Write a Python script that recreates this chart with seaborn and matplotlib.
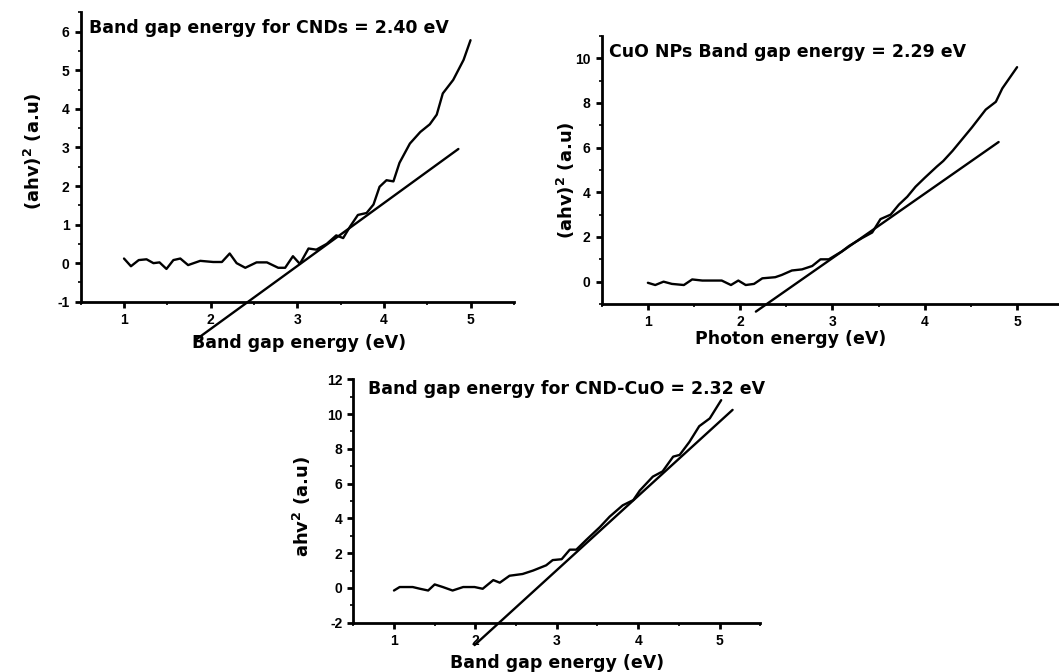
import numpy as np
import pandas as pd
import matplotlib
matplotlib.use("Agg")
import matplotlib.pyplot as plt
import seaborn as sns
from matplotlib.ticker import MultipleLocator

# ---- Panel 1: CNDs ----
cnd_x = [1.00, 1.08, 1.17, 1.26, 1.34, 1.41, 1.49, 1.57, 1.65, 1.74, 1.88, 2.03, 2.13, 2.22, 2.30, 2.40,
         2.53, 2.65, 2.78, 2.86, 2.95, 3.03, 3.13, 3.22, 3.34, 3.45, 3.53, 3.61, 3.70, 3.80, 3.88, 3.95,
         4.03, 4.11, 4.18, 4.30, 4.42, 4.53, 4.61, 4.68, 4.80, 4.92, 5.00]
cnd_y = [0.12, -0.08, 0.08, 0.10, 0.00, 0.02, -0.15, 0.08, 0.12, -0.05, 0.06, 0.03, 0.03, 0.25, 0.00, -0.12,
         0.02, 0.02, -0.12, -0.12, 0.18, -0.02, 0.38, 0.35, 0.50, 0.72, 0.65, 0.95, 1.25, 1.30, 1.52, 1.98,
         2.15, 2.12, 2.60, 3.10, 3.40, 3.60, 3.85, 4.40, 4.75, 5.27, 5.78]
cnd_fit_x = [1.82, 4.86]
cnd_fit_y = [-2.00, 2.96]

# ---- Panel 2: CuO NPs ----
cuo_x = [1.00, 1.08, 1.17, 1.26, 1.39, 1.48, 1.59, 1.80, 1.90, 1.98, 2.06, 2.15, 2.24, 2.38, 2.45, 2.56,
         2.67, 2.78, 2.87, 2.96, 3.10, 3.18, 3.32, 3.43, 3.52, 3.63, 3.72, 3.81, 3.90, 4.00, 4.13, 4.20,
         4.30, 4.40, 4.51, 4.66, 4.77, 4.84, 5.00]
cuo_y = [-0.05, -0.15, 0.00, -0.10, -0.15, 0.10, 0.05, 0.05, -0.15, 0.05, -0.15, -0.10, 0.15, 0.20, 0.30, 0.50,
         0.55, 0.70, 1.00, 1.00, 1.35, 1.60, 1.95, 2.20, 2.80, 3.00, 3.45, 3.80, 4.25, 4.65, 5.15, 5.40,
         5.85, 6.35, 6.90, 7.70, 8.05, 8.65, 9.60]
cuo_fit_x = [2.17, 4.80]
cuo_fit_y = [-1.34, 6.25]

# ---- Panel 3: CND-CuO ----
mix_x = [1.00, 1.07, 1.23, 1.32, 1.42, 1.50, 1.60, 1.72, 1.85, 1.99, 2.09, 2.22, 2.30, 2.42, 2.58, 2.71,
         2.87, 2.95, 3.06, 3.16, 3.24, 3.36, 3.53, 3.65, 3.81, 3.94, 4.02, 4.18, 4.30, 4.43, 4.51, 4.63,
         4.75, 4.88, 5.02]
mix_y = [-0.15, 0.05, 0.05, -0.05, -0.15, 0.20, 0.05, -0.15, 0.05, 0.05, -0.05, 0.45, 0.30, 0.70, 0.80, 1.00,
         1.30, 1.60, 1.65, 2.20, 2.20, 2.75, 3.50, 4.10, 4.75, 5.05, 5.60, 6.40, 6.70, 7.55, 7.65, 8.40,
         9.30, 9.75, 10.80]
mix_fit_x = [1.99, 5.16]
mix_fit_y = [-3.29, 10.24]

titles = ["Band gap energy for CNDs = 2.40 eV",
          "CuO NPs Band gap energy = 2.29 eV",
          "Band gap energy for CND-CuO = 2.32 eV"]
xlabels = ["Band gap energy (eV)", "Photon energy (eV)", "Band gap energy (eV)"]
ylabels = [r"(ahv)$^{\mathbf{2}}$ (a.u)", r"(ahv)$^{\mathbf{2}}$ (a.u)", r"ahv$^{\mathbf{2}}$ (a.u)"]
x_ticks = [1, 2, 3, 4, 5]
y_ticks = [[-1, 0, 1, 2, 3, 4, 5, 6], [0, 2, 4, 6, 8, 10], [-2, 0, 2, 4, 6, 8, 10, 12]]

sns.set_theme(style="ticks")
plt.rcParams['font.family'] = ['DejaVu Sans']
plt.rcParams['mathtext.default'] = 'bf'
plt.rcParams['axes.unicode_minus'] = False
plt.rcParams['text.color'] = 'black'
plt.rcParams['axes.labelcolor'] = 'black'
plt.rcParams['xtick.color'] = 'black'
plt.rcParams['ytick.color'] = 'black'

fig = plt.figure(figsize=(10.59, 6.72), dpi=100)
fig.patch.set_facecolor("white")

positions = [[0.0762, 0.551, 0.409, 0.4305],
             [0.5682, 0.5476, 0.4358, 0.399],
             [0.3336, 0.0734, 0.3843, 0.3622]]
ylims = [(-1, 6.5), (-1, 11), (-2, 12)]
ylocs = [(1, 0.5), (2, 1), (2, 1)]
curves = [(cnd_x, cnd_y, cnd_fit_x, cnd_fit_y),
          (cuo_x, cuo_y, cuo_fit_x, cuo_fit_y),
          (mix_x, mix_y, mix_fit_x, mix_fit_y)]
title_pos = [(0.02, 0.945), (0.015, 0.94), (0.035, 0.96)]
xlab_coords = [(0.505, -0.112), (0.41, -0.097), (0.5, -0.128)]
ylab_coords = [(-0.085, 0.52), (-0.054, 0.46), (-0.10, 0.477)]

for i, pos in enumerate(positions):
    ax = fig.add_axes(pos)
    ax.set_facecolor("white")
    cx, cy, fx, fy = curves[i]
    df = pd.DataFrame({"x": cx, "y": cy})
    sns.lineplot(data=df, x="x", y="y", ax=ax, color="black", linewidth=1.7, estimator=None, sort=False)
    dff = pd.DataFrame({"x": fx, "y": fy})
    sns.lineplot(data=dff, x="x", y="y", ax=ax, color="black", linewidth=1.7, estimator=None, sort=False)
    ax.lines[-1].set_clip_on(False)
    ax.set_xlim(0.5, 5.5)
    ax.set_ylim(*ylims[i])
    ax.set_xticks(x_ticks)
    ax.set_yticks(y_ticks[i])
    ax.xaxis.set_minor_locator(MultipleLocator(0.5))
    ax.yaxis.set_minor_locator(MultipleLocator(ylocs[i][1]))
    ax.tick_params(which="major", direction="out", length=4, width=2, labelsize=10, pad=4)
    ax.tick_params(which="minor", direction="out", length=2.5, width=1.2)
    for lab in ax.get_xticklabels() + ax.get_yticklabels():
        lab.set_fontfamily("Liberation Sans")
        lab.set_fontweight("bold")
    for s in ["top", "right"]:
        ax.spines[s].set_visible(False)
    for s in ["left", "bottom"]:
        ax.spines[s].set_linewidth(2)
        ax.spines[s].set_color("black")
    ax.set_xlabel(xlabels[i], fontsize=12.5, fontweight="bold")
    ax.set_ylabel(ylabels[i], fontsize=13, fontweight="bold")
    ax.xaxis.set_label_coords(*xlab_coords[i])
    ax.yaxis.set_label_coords(*ylab_coords[i])
    ax.text(title_pos[i][0], title_pos[i][1], titles[i], transform=ax.transAxes,
            fontsize=12.5, fontweight="bold", ha="left", va="center")

fig.savefig("out.png", dpi=100, facecolor="white")
